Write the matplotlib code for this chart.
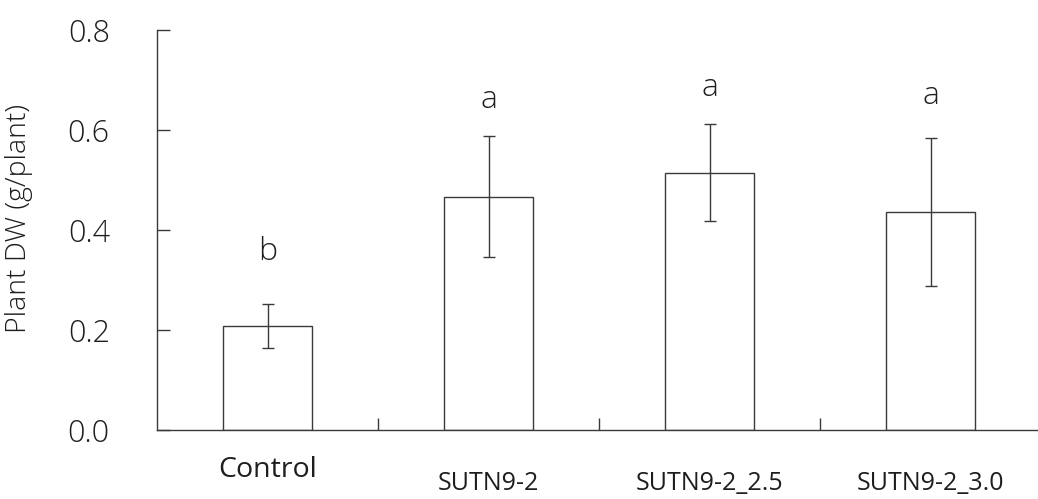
import matplotlib
matplotlib.use("Agg")
import matplotlib.pyplot as plt

# Datos
categorias = ["Control", "SUTN9-2", "SUTN9-2_2.5", "SUTN9-2_3.0"]
medias = [0.208, 0.467, 0.515, 0.437]
errores = [0.044, 0.121, 0.098, 0.148]
letras = ["b", "a", "a", "a"]
y_letras = [0.356, 0.660, 0.684, 0.668]
y_ticks = [0.0, 0.2, 0.4, 0.6, 0.8]

plt.rcParams["font.family"] = ["Open Sans", "DejaVu Sans"]
linea = "#3a3a3a"
texto = "#1e1e1e"

fig = plt.figure(figsize=(10.38, 4.99), dpi=100)
ax = fig.add_axes([157 / 1038, 69 / 499, 884 / 1038, 400 / 499])

x = list(range(len(categorias)))
ax.bar(x, medias, width=0.4, color="white", edgecolor=linea, linewidth=1.0, zorder=2)
ax.errorbar(x, medias, yerr=errores, fmt="none", ecolor=linea, elinewidth=1.0,
            capsize=4.3, capthick=1.0, zorder=3)

for xi, letra, yl in zip(x, letras, y_letras):
    ax.text(xi, yl, letra, ha="center", va="center", fontsize=23,
            fontweight="light", color=texto)

ax.set_xlim(-0.5, 3.5)
ax.set_ylim(0, 0.8)

# Marcas entre categorías (hacia dentro)
ax.set_xticks([0.5, 1.5, 2.5])
ax.set_xticklabels([])
ax.tick_params(axis="x", direction="in", length=9, width=1.0, color=linea)

ax.set_yticks(y_ticks)
ax.set_yticklabels([f"{v:.1f}" for v in y_ticks])
ax.tick_params(axis="y", direction="in", length=9, width=1.0, color=linea,
               pad=34, labelsize=22, labelcolor=texto)
for lbl in ax.get_yticklabels():
    lbl.set_fontweight("light")

ax.spines["top"].set_visible(False)
ax.spines["right"].set_visible(False)
for s in ("left", "bottom"):
    ax.spines[s].set_color(linea)
    ax.spines[s].set_linewidth(1.0)

ax.set_ylabel("Plant DW (g/plant)", fontsize=20.5, fontweight="light", color=texto)
ax.yaxis.set_label_coords(-0.140, 0.53)

# Etiquetas de categoría
trans = ax.get_xaxis_transform()
ax.text(0, -0.10, categorias[0], transform=trans, ha="center", va="center",
        fontsize=20.5, color=texto)
for xi, cat in zip(x[1:], categorias[1:]):
    ax.text(xi, -0.133, cat, transform=trans, ha="center", va="center",
            fontsize=18, color=texto)

fig.savefig("out.png", dpi=100)
